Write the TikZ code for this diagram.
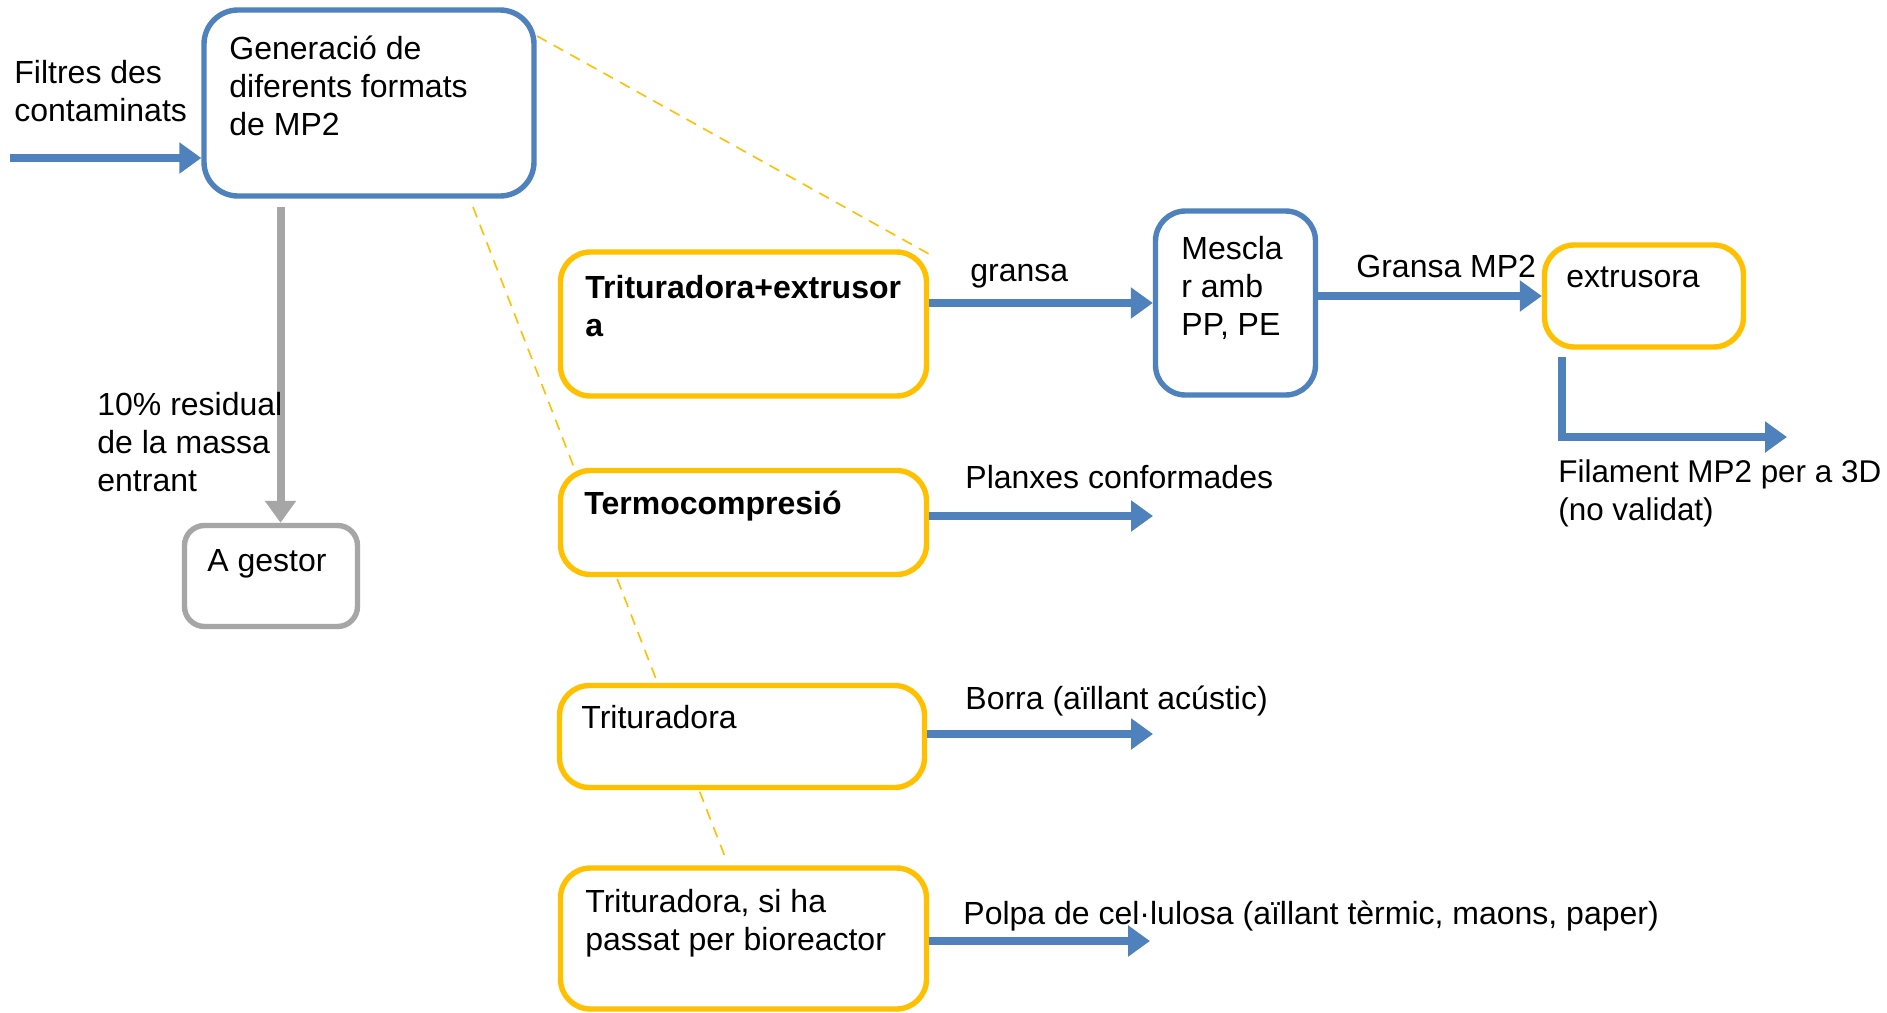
\documentclass[tikz,border=0pt]{standalone}
\usepackage{fontspec}
\setmainfont{Liberation Sans}
\usetikzlibrary{arrows.meta}
\definecolor{cblue}{HTML}{4F81BD}
\definecolor{cyel}{HTML}{FFC000}
\definecolor{cgray}{HTML}{A6A6A6}
\newcommand{\mlines}[1]{\begin{tabular}[t]{@{}l@{}}#1\end{tabular}}
\begin{document}
\begin{tikzpicture}[x=0.5pt,y=-0.5pt,
  every node/.style={font=\fontsize{16}{19}\selectfont},
  box/.style={draw, line width=2.7pt, fill=white, rounded corners=15pt, inner sep=0pt},
  bluebox/.style={box, draw=cblue},
  yelbox/.style={box, draw=cyel},
  graybox/.style={box, draw=cgray},
  lbl/.style={anchor=base west, inner sep=0pt},
  flow/.style={draw=cblue, line width=4pt, -{Triangle[length=11pt,width=15pt]}},
  grayflow/.style={draw=cgray, line width=4pt, -{Triangle[length=11pt,width=15pt]}},
  zoomline/.style={draw=cyel, line width=0.8pt, dash pattern=on 5.5pt off 4pt}]
\useasboundingbox (0,0) rectangle (1887,1013);
\fill[white] (0,0) rectangle (1887,1013);

% dashed callout lines (behind the boxes)
\coordinate (d1a) at (537,36);
\coordinate (d1b) at (929,254);
\coordinate (d2a) at (473,207);
\coordinate (d2b) at (727,862);
\draw[zoomline] (d1a) -- (d1b);
\draw[zoomline] (d2a) -- (d2b);

% boxes
\node[bluebox, rounded corners=17pt, minimum width=165pt, minimum height=93pt] (gen) at (369,103) {};
\node[graybox, rounded corners=10pt, minimum width=86.5pt, minimum height=50.5pt] (gest) at (271,576) {};
\node[yelbox, minimum width=183pt, minimum height=72pt] (tex) at (743.5,324) {};
\node[bluebox, minimum width=80pt, minimum height=92pt] (mes) at (1235.5,303) {};
\node[yelbox, minimum width=99.5pt, minimum height=51pt] (ext) at (1644,296) {};
\node[yelbox, minimum width=183pt, minimum height=52pt] (ter) at (743.5,522.5) {};
\node[yelbox, minimum width=182.5pt, minimum height=51pt] (tri) at (742,736.5) {};
\node[yelbox, minimum width=183pt, minimum height=70.5pt] (bio) at (743.5,938.5) {};

% connectors
\coordinate (in) at (10,158);
\draw[flow] (in) -- (in -| gen.west);
\coordinate (g0) at (280.5,207);
\draw[grayflow] (g0) -- (g0 |- gest.north);
\draw[flow] (tex.east |- mes.west) -- (mes.west);
\draw[flow] (mes.east |- ext.west) -- (ext.west);
\coordinate (f0) at (1562,357);
\coordinate (f1) at (1562,437);
\coordinate (f2) at (1787,437);
\draw[flow] (f0) -- (f1) -- (f2);
\coordinate (pla) at (1153,516);
\draw[flow] (ter.east |- pla) -- (pla);
\coordinate (bor) at (1153,734);
\draw[flow] (tri.east |- bor) -- (bor);
\coordinate (pol) at (1150,941);
\draw[flow] (bio.east |- pol) -- (pol);

% texts
\node[lbl] (tin) at (14,83) {\mlines{Filtres des\\contaminats}};
\node[lbl] (tgen) at (229,59) {\mlines{Generació de\\diferents formats\\de MP2}};
\node[lbl] (tres) at (97,415) {\mlines{10\% residual\\de la massa\\entrant}};
\node[lbl] (tgest) at (207,571) {A gestor};
\node[lbl] (ttex) at (585,298) {\mlines{\bfseries Trituradora+extrusor\\\bfseries a}};
\node[lbl] (tgr) at (970,281) {gransa};
\node[lbl] (tmes) at (1181,259) {\mlines{Mescla\\r amb\\PP, PE}};
\node[lbl] (tgmp) at (1356,277) {Gransa MP2};
\node[lbl] (text) at (1566,287) {extrusora};
\node[lbl, font=\fontsize{15.7}{19}\selectfont] (tfil) at (1558,482) {\mlines{Filament MP2 per a 3D\\(no validat)}};
\node[lbl] (tter) at (584,514) {\bfseries Termocompresió};
\node[lbl] (tpla) at (965,488) {Planxes conformades};
\node[lbl] (ttri) at (581,728) {Trituradora};
\node[lbl] (tbor) at (965,709) {Borra (aïllant acústic)};
\node[lbl] (tbio) at (585,912) {\mlines{Trituradora, si ha\\passat per bioreactor}};
\node[lbl] (tpol) at (963,924) {Polpa de cel·lulosa (aïllant tèrmic, maons, paper)};
\end{tikzpicture}
\end{document}
